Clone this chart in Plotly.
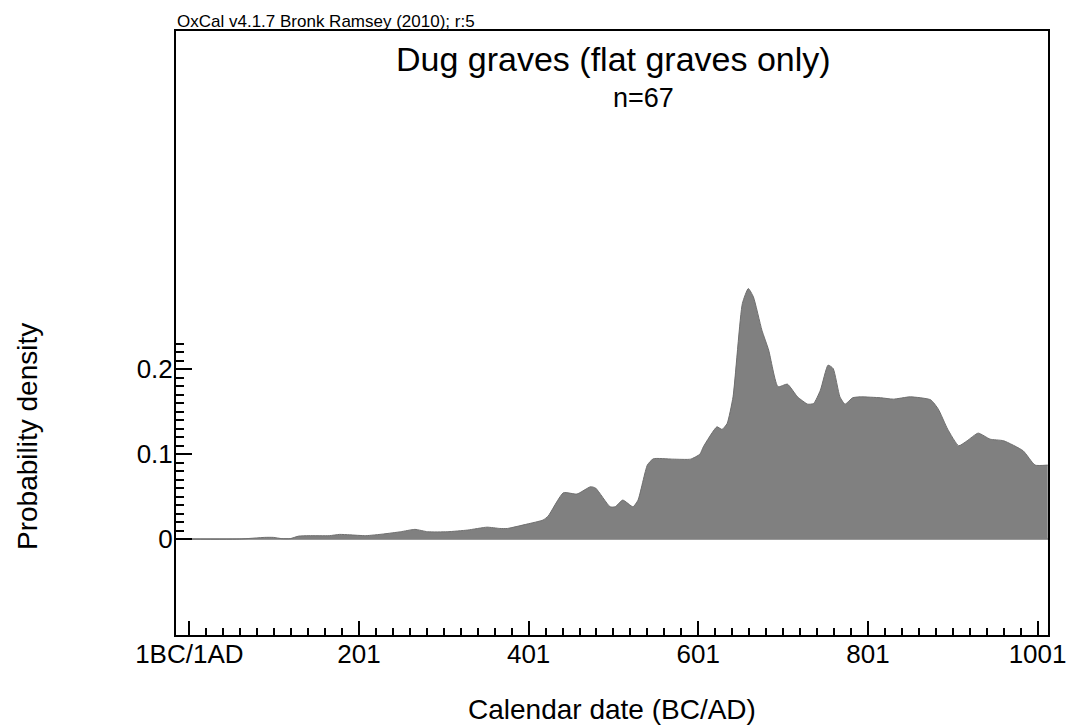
import plotly.graph_objects as go

# ---- data ----
years = [-15, 60, 90, 100, 110, 120, 130, 142, 166, 178, 190, 209, 230, 250, 267,
         282, 305, 329, 352, 367, 376, 399, 418, 424, 442, 458, 474, 480, 497, 503,
         512, 524, 530, 541, 548, 571, 592, 603, 607, 623, 629, 635, 642, 653, 660,
         666, 676, 684, 695, 706, 718, 730, 737, 745, 754, 760, 768, 774, 783, 792,
         816, 831, 851, 875, 884, 895, 908, 918, 931, 945, 961, 984, 998, 1013]
density = [0, 0, 0.002, 0.002, 0.0005, 0.0005, 0.0035, 0.004, 0.004, 0.0055, 0.005,
           0.004, 0.006, 0.0086, 0.0114, 0.0086, 0.0086, 0.0106, 0.014, 0.0125, 0.0125,
           0.0176, 0.0224, 0.027, 0.0545, 0.053, 0.0616, 0.06, 0.038, 0.038, 0.0459,
           0.038, 0.0459, 0.0871, 0.0945, 0.0941, 0.0941, 0.1, 0.1086, 0.1321, 0.129,
           0.136, 0.1674, 0.2773, 0.2949, 0.285, 0.2459, 0.2224, 0.1792, 0.1824, 0.1674,
           0.1588, 0.1596, 0.1753, 0.2047, 0.2008, 0.1674, 0.1588, 0.1663, 0.1674,
           0.1663, 0.1647, 0.1674, 0.1639, 0.1529, 0.1294, 0.1098, 0.1157, 0.1247,
           0.1176, 0.1157, 0.1039, 0.0871, 0.0871]

x_tick_vals = [1, 201, 401, 601, 801, 1001]
x_tick_text = ["1BC/1AD", "201", "401", "601", "801", "1001"]
x_minor_vals = [v for v in range(1, 1002, 20) if v not in x_tick_vals]
y_tick_vals = [0, 0.1, 0.2]
y_tick_text = ["0", "0.1", "0.2"]
y_minor_vals = [round(i * 0.01, 2) for i in range(0, 24) if i not in (0, 10, 20)]

title_text = "Dug graves (flat graves only)"
subtitle_text = "n=67"
credit_text = "OxCal v4.1.7 Bronk Ramsey (2010); r:5"
x_title = "Calendar date (BC/AD)"
y_title = "Probability density"

FONT = "Liberation Sans, Arial, Helvetica, sans-serif"

# page offset of the figure (browser body margin)
OFF = 8
W, H = 1079 - OFF, 725 - OFF
# plot frame in page pixels: left 176, right 1047.7, top 30.7, bottom 635
ML, MR, MT, MB = 176 - OFF, 1079 - 1048, 31 - OFF, 725 - 635
PW, PH = W - ML - MR, H - MT - MB


def px_x(p):
    """page pixel x -> paper coordinate"""
    return (p - OFF - ML) / PW


def px_y(p):
    """page pixel y -> paper coordinate"""
    return (H - MB - (p - OFF)) / PH


fig = go.Figure()
fig.add_trace(go.Scatter(
    x=years, y=density, mode="lines", fill="tozeroy",
    line=dict(color="#6f6f6f", width=1, shape="spline", smoothing=0.5),
    fillcolor="#808080", hoverinfo="skip", showlegend=False,
))

fig.update_layout(
    template="none",
    width=W, height=H,
    margin=dict(l=ML, r=MR, t=MT, b=MB, pad=0),
    paper_bgcolor="white", plot_bgcolor="white",
    font=dict(family=FONT, color="black"),
    showlegend=False,
    xaxis=dict(
        range=[-14.7, 1013.3], automargin=False, showgrid=False, zeroline=False,
        showline=True, linecolor="black", linewidth=2, mirror=True,
        tickmode="array", tickvals=x_tick_vals, ticktext=x_tick_text,
        ticks="inside", ticklen=14, tickwidth=1.5, tickcolor="black",
        ticklabelstandoff=-5,
        tickfont=dict(size=26, family=FONT, color="black"),
        minor=dict(tickmode="array", tickvals=x_minor_vals, ticks="inside",
                   ticklen=7, tickwidth=1.5, tickcolor="black", showgrid=False),
        fixedrange=True,
    ),
    yaxis=dict(
        range=[-0.1129, 0.598], automargin=False, showgrid=False,
        zeroline=True, zerolinecolor="#999999", zerolinewidth=1.5,
        showline=True, linecolor="black", linewidth=2, mirror=True,
        tickmode="array", tickvals=y_tick_vals, ticktext=y_tick_text,
        ticks="inside", ticklen=16, tickwidth=1.5, tickcolor="black",
        ticklabelstandoff=-4,
        tickfont=dict(size=26, family=FONT, color="black"),
        minor=dict(tickmode="array", tickvals=y_minor_vals, ticks="inside",
                   ticklen=8, tickwidth=1.5, tickcolor="black", showgrid=False),
        fixedrange=True,
    ),
    annotations=[
        dict(text=credit_text, xref="paper", yref="paper", x=px_x(175), y=px_y(21),
             xanchor="left", yanchor="middle", showarrow=False,
             font=dict(size=17, family=FONT, color="black")),
        dict(text=title_text, xref="paper", yref="paper", x=px_x(613), y=px_y(59),
             xanchor="center", yanchor="middle", showarrow=False,
             font=dict(size=34, family=FONT, color="black")),
        dict(text=subtitle_text, xref="paper", yref="paper", x=px_x(643), y=px_y(98),
             xanchor="center", yanchor="middle", showarrow=False,
             font=dict(size=27, family=FONT, color="black")),
        dict(text=x_title, xref="paper", yref="paper", x=px_x(612), y=px_y(709),
             xanchor="center", yanchor="middle", showarrow=False,
             font=dict(size=28, family=FONT, color="black")),
        dict(text=y_title, xref="paper", yref="paper", x=px_x(27), y=px_y(437),
             xanchor="center", yanchor="middle", showarrow=False, textangle=-90,
             font=dict(size=28, family=FONT, color="black")),
    ],
)

fig.write_html("out.html")
